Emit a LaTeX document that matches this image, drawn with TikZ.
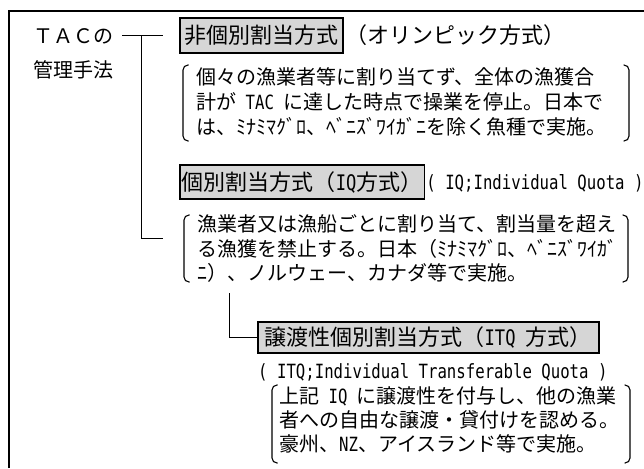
\documentclass[tikz,border=0pt]{standalone}
\usepackage{fontspec}
\newfontfamily\jp{Noto Sans CJK JP}
\newfontfamily\monofam[FakeStretch=0.8]{DejaVu Sans Mono}
\newcommand\bodysz{\fontsize{20}{24}\selectfont}
\newcommand\titlesz{\fontsize{22}{26}\selectfont}
\newcommand\lb[1]{{\monofam\fontsize{19.6}{22}\selectfont #1}}
\newcommand\lt[1]{{\monofam\fontsize{21.4}{24}\selectfont #1}}
\definecolor{boxgray}{RGB}{214,214,214}
\newcommand\bracketpair[4]{%
  \draw[brk,rounded corners=5pt] (#1+5.5,#2) -- (#1,#2) -- (#1,#4) -- (#1+5.5,#4);
  \draw[brk,rounded corners=5pt] (#3-5.5,#2) -- (#3,#2) -- (#3,#4) -- (#3-5.5,#4);}
\begin{document}
\begin{tikzpicture}[x=1pt,y=-1pt,
  body/.style={anchor=west,inner sep=0pt,font=\jp\bodysz,text height=17.6pt,text depth=2.4pt},
  ttl/.style={anchor=west,inner xsep=2pt,inner ysep=0pt,font=\jp\titlesz,text height=19.4pt,text depth=2.6pt,draw,line width=1.6pt,fill=boxgray},
  ttlplain/.style={anchor=west,inner sep=0pt,font=\jp\titlesz,text height=19.4pt,text depth=2.6pt},
  conn/.style={line width=1pt},
  brk/.style={line width=1.1pt},
  frame/.style={line width=2pt}]
\useasboundingbox (0,0) rectangle (644,468);
\fill[white] (0,0) rectangle (644,468);
\draw[frame] (9,468) -- (9,11) -- (644,11);

% left label
\node[body] (tac) at (33,36) {ＴＡＣの};
\node[body] (kanri) at (33,70) {管理手法};

% title 1
\node[ttl,minimum width=163,minimum height=35] (t1) at (179,35.5) {非個別割当方式};
\node[ttlplain] (t1b) at ([xshift=2pt]t1.east) {（オリンピック方式）};
\bracketpair{183}{65}{629}{141}
\node[body] (a1) at (196,77) {個々の漁業者等に割り当てず、全体の漁獲合};
\node[body] (a2) at (196,102) {計が\lb{ TAC }に達した時点で操業を停止。日本で};
\node[body] (a3) at (196,127) {は、ﾐﾅﾐﾏｸﾞﾛ、ﾍﾞﾆｽﾞﾜｲｶﾞﾆを除く魚種で実施。};

% title 2
\node[ttl,minimum width=243,minimum height=34] (t2) at (179,182) {個別割当方式（\lt{IQ}方式）};
\node[body] (t2b) at ([xshift=1pt]t2.east) {\lb{( IQ;Individual Quota )}};
\bracketpair{184}{215}{628}{282}
\node[body] (b1) at (197,224) {漁業者又は漁船ごとに割り当て、割当量を超え};
\node[body] (b2) at (197,248.5) {る漁獲を禁止する。日本（ﾐﾅﾐﾏｸﾞﾛ、ﾍﾞﾆｽﾞﾜｲｶﾞ};
\node[body] (b3) at (197,273) {ﾆ）、ノルウェー、カナダ等で実施。};

% title 3
\node[ttl,minimum width=341,minimum height=31] (t3) at (257,337.5) {譲渡性個別割当方式（\lt{ITQ }方式）};
\node[body] (t3b) at (258,371) {\lb{( ITQ;Individual Transferable Quota )}};
\bracketpair{272}{385}{630}{463}
\node[body] (c1) at (279,396) {上記\lb{ IQ }に譲渡性を付与し、他の漁業};
\node[body] (c2) at (279,420) {者への自由な譲渡・貸付けを認める。};
\node[body] (c3) at (279,444) {豪州、\lb{NZ}、アイスランド等で実施。};

% connectors
\coordinate (h1s) at (122,36);
\coordinate (h1e) at (163,36);
\coordinate (vtop) at (141,36);
\coordinate (vbot) at (141,238);
\coordinate (h2e) at (163,238);
\coordinate (v3top) at (229,293);
\coordinate (v3bot) at (229,337.5);
\draw[conn] (h1s) -- (h1e);
\draw[conn] (vtop) -- (vbot) -- (h2e);
\draw[conn] (v3top) -- (v3bot) -- (t3.west);
\end{tikzpicture}
\end{document}
